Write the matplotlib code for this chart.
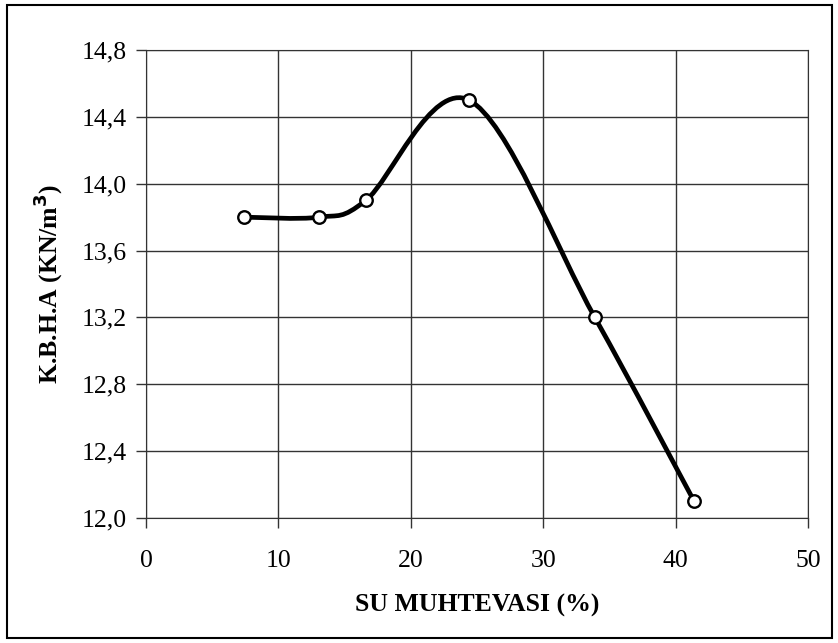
import numpy as np
import matplotlib.pyplot as plt
from matplotlib.path import Path
from matplotlib.patches import PathPatch, Rectangle
from matplotlib.ticker import FuncFormatter

plt.rcParams['font.family'] = ['Liberation Serif', 'DejaVu Serif']

# data
su = [7.4, 13.1, 16.6, 24.4, 33.9, 41.4]
kbha = [13.8, 13.8, 13.9, 14.5, 13.2, 12.1]

fig = plt.figure(figsize=(8.38, 6.43), dpi=100)
ax = fig.add_axes([0.1742, 0.1944, 0.79, 0.7278])

# smoothed line like Excel (bezier through the points)
pts = np.column_stack([su, kbha])
n = len(pts)
verts = [pts[0]]
codes = [Path.MOVETO]
for i in range(n - 1):
    p0 = pts[i - 1] if i > 0 else pts[i]
    p1 = pts[i]
    p2 = pts[i + 1]
    p3 = pts[i + 2] if i + 2 < n else pts[i + 1]
    c1 = p1 + (p2 - p0) / 6
    c2 = p2 - (p3 - p1) / 6
    verts += [c1, c2, p2]
    codes += [Path.CURVE4] * 3
ax.add_patch(PathPatch(Path(verts, codes), fill=False, lw=3.4, color='black',
                       capstyle='round', joinstyle='round', zorder=3))
ax.plot(su, kbha, 'o', ms=9, mfc='white', mec='black', mew=1.7, zorder=4)

ax.set_xlim(0, 50)
ax.set_ylim(12.0, 14.8)
ax.set_xticks(np.arange(0, 51, 10))
ax.set_yticks(np.arange(12.0, 14.81, 0.4))
ax.yaxis.set_major_formatter(FuncFormatter(lambda v, p: f'{v:.1f}'.replace('.', ',')))
ax.grid(True, color='#333333', lw=1)
ax.set_axisbelow(True)
for s in ax.spines.values():
    s.set_color('#333333')
ax.tick_params(direction='out', length=7, width=1, color='#333333', labelsize=18.5, pad=7)
ax.tick_params(axis='x', pad=16)

ax.set_xlabel('SU MUHTEVASI (%)', fontsize=18.5, fontweight='bold', labelpad=16)
ax.set_ylabel('K.B.H.A (KN/m$^\\mathbf{3}$)', fontsize=18.5, fontweight='bold', labelpad=12)

fig.patches.append(Rectangle((0.008, 0.008), 0.985, 0.984, transform=fig.transFigure,
                             fill=False, ec='black', lw=1.5))

fig.savefig('out.png', dpi=100)
